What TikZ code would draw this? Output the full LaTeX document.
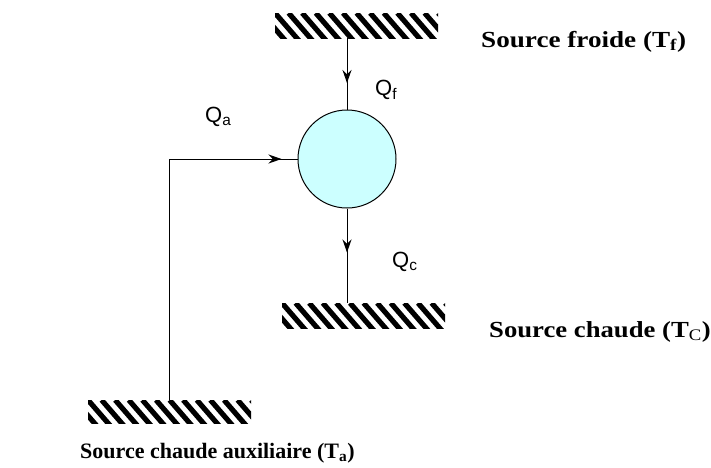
\documentclass[tikz,border=0pt]{standalone}
\usepackage{fontspec}
\setmainfont{Liberation Serif}
\newfontfamily\qfont{Liberation Sans}
\usetikzlibrary{arrows.meta,decorations.markings}
\tikzset{
  hatchbox/.style={minimum width=163pt, minimum height=25pt, inner sep=0pt, outer sep=0pt,
    path picture={\foreach \i in {-3,...,13}
      \draw[line width=5.2pt] ([xshift=\i*13.6pt]path picture bounding box.north west) -- ++(26pt,-30pt);}},
  engine/.style={circle, draw, line width=1pt, fill={rgb,255:red,204;green,255;blue,255}, minimum size=98pt, inner sep=0pt},
  flow/.style={line width=1pt},
  arr/.style={postaction={decorate, decoration={markings, mark=at position #1 with {\arrow{Stealth[length=13pt,width=9pt]}}}}},
  qlab/.style={font=\qfont\fontsize{22}{26}\selectfont, anchor=west, inner sep=0pt},
  slab/.style={font=\fontsize{22}{26}\selectfont\bfseries, anchor=base west, inner sep=0pt},
  rlab/.style={font=\fontsize{23}{27}\selectfont\bfseries, anchor=base west, inner sep=0pt}
}
\begin{document}
\begin{tikzpicture}[x=1pt,y=-1pt]
\useasboundingbox (0,0) rectangle (711,467);
\node[hatchbox] (topH) at (356.5,25.5) {};
\node[hatchbox] (midH) at (363.5,315.5) {};
\node[hatchbox, minimum height=23pt] (botH) at (169.5,411.5) {};
\node[engine] (eng) at (347,159) {};
\coordinate (corner) at (169,159);
\draw[flow, arr=45pt] (eng |- topH.south) -- (eng.north);
\draw[flow, arr=44pt] (eng.south) -- (eng |- midH.north);
\draw[flow, arr=-16pt] (botH.north -| corner) -- (corner) -- (eng.west);
\node[qlab] (qf) at (375,90) {Q\textsubscript{f}};
\node[qlab] (qa) at (205,117) {Q\textsubscript{a}};
\node[qlab] (qc) at (392,262) {Q\textsubscript{c}};
\node[rlab] (sf) at (481,47) {\scalebox{1.18}[1]{Source froide (T\textsubscript{f})}};
\node[rlab] (sc) at (489,337) {\scalebox{1.16}[1]{Source chaude (T\textsubscript{\mdseries C})}};
\node[slab] (sa) at (80,458) {Source chaude auxiliaire (T\textsubscript{a})};
\end{tikzpicture}
\end{document}
